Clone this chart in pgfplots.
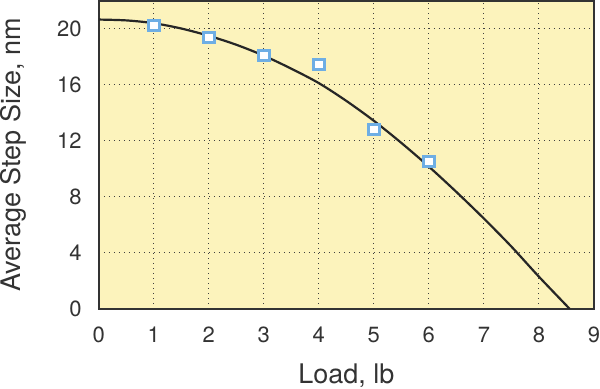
\documentclass[border=0pt]{standalone}
\usepackage{pgfplots}
\pgfplotsset{compat=1.18}
\usepackage{fontspec}
\setmainfont{TeX Gyre Heros}
\definecolor{bgy}{RGB}{252,243,188}
\definecolor{mk}{RGB}{110,174,228}
\begin{document}
\begin{tikzpicture}
\begin{axis}[
  scale only axis,
  width=495pt, height=308pt,
  xmin=0, xmax=9, ymin=0, ymax=22,
  xtick={0,...,9}, ytick={0,4,...,20},
  /pgf/number format/assume math mode=true,
  tick style={draw=none},
  grid=major,
  major grid style={black!75, dash pattern=on 1pt off 4pt, line width=1pt},
  axis line style={black!80, line width=1.6pt},
  axis background/.style={fill=bgy},
  tick label style={font=\fontsize{22}{26}\selectfont, text=black!80, inner sep=0pt},
  xticklabel style={anchor=north, yshift=-18pt},
  yticklabel style={anchor=east, xshift=-17pt},
  label style={font=\fontsize{27}{32}\selectfont, text=black!80, inner sep=0pt},
  xlabel={Load, lb},
  ylabel={Average Step Size, nm},
  xlabel style={at={(axis description cs:0.5,0)}, anchor=north, yshift=-54pt, inner sep=1pt},
  ylabel style={at={(axis description cs:0,0.5)}, anchor=north, yshift=99pt},
]
\addplot[black!85, line width=2.2pt, smooth] coordinates {
(0,20.66) (0.5,20.60) (1,20.40) (1.5,20.02) (2,19.50) (2.5,18.86) (3,18.08)
(3.5,17.15) (4,16.12) (4.5,14.85) (5,13.43) (5.5,11.85) (6,10.16) (6.5,8.35)
(7,6.45) (7.5,4.45) (8,2.30) (8.56,0)};
\addplot[only marks, mark=square*, mark size=5.2pt,
  mark options={draw=mk, fill=white, line width=3pt}] coordinates {
(1,20.24) (2,19.4) (3,18.1) (4,17.43) (5,12.79) (6,10.52)};
\end{axis}
\end{tikzpicture}
\end{document}
